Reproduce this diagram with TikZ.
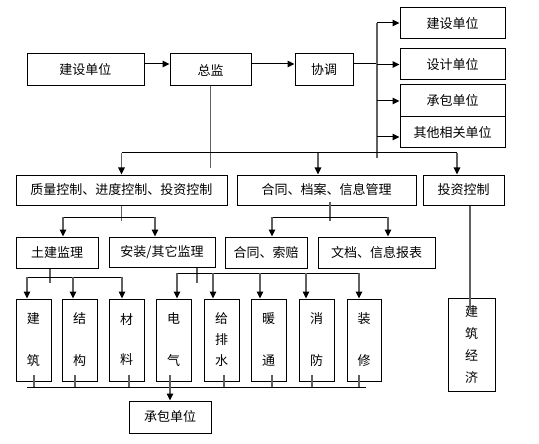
\documentclass[tikz,border=0pt]{standalone}
\usepackage{fontspec}
\setmainfont{Noto Sans CJK SC}
\usetikzlibrary{arrows.meta,calc}
\begin{document}
\begin{tikzpicture}[x=1pt,y=-1pt,line width=1pt,
  box/.style={draw=black,rectangle,inner sep=0pt,font=\fontsize{13}{15}\selectfont},
  vbox/.style={box,minimum width=35pt,minimum height=82pt,align=center,font=\fontsize{13}{21}\selectfont},
  hl/.style={draw=black},
  gl/.style={draw=gray!75!black,line width=1.2pt},
  arr/.style={-{Triangle[length=7pt,width=6.5pt,color=black]}},
  garr/.style={gl,-{Triangle[length=7pt,width=6.5pt,color=black]}}]
\useasboundingbox (0,0) rectangle (539,444);
\fill[white] (0,0) rectangle (539,444);
% top row
\node[box,minimum width=117pt,minimum height=32pt] (js) at (85.5,70) {建设单位};
\node[box,minimum width=81pt,minimum height=32pt] (zj) at (210.5,70) {总监};
\node[box,minimum width=58pt,minimum height=32pt] (xt) at (324,70) {协调};
\node[box,minimum width=105pt,minimum height=31pt] (r1) at (452.5,23.5) {建设单位};
\node[box,minimum width=105pt,minimum height=31pt] (r2) at (452.5,64.5) {设计单位};
\node[box,minimum width=105pt,minimum height=32pt] (r3) at (452.5,101) {承包单位};
\node[box,minimum width=105pt,minimum height=31pt] (r4) at (452.5,132.5) {其他相关单位};
% second row
\node[box,minimum width=211pt,minimum height=30pt] (zl) at (121.5,190) {质量控制、进度控制、投资控制};
\node[box,minimum width=179pt,minimum height=30pt] (ht) at (326.5,190) {合同、档案、信息管理};
\node[box,minimum width=81pt,minimum height=30pt] (tz) at (463.5,190) {投资控制};
% third row
\node[box,minimum width=82pt,minimum height=31pt] (tj) at (57,252.5) {土建监理};
\node[box,minimum width=106pt,minimum height=30pt] (az) at (162,252) {安装/其它监理};
\node[box,minimum width=82pt,minimum height=31pt] (hs) at (266,252.5) {合同、索赔};
\node[box,minimum width=117pt,minimum height=31pt] (wd) at (376.5,252.5) {文档、信息报表};
% fourth row
\node[vbox] (b1) at (33.5,340) {建\\[21pt]筑};
\node[vbox] (b2) at (79.5,340) {结\\[21pt]构};
\node[vbox] (b3) at (126.5,340) {材\\[19pt]料};
\node[vbox] (b4) at (173.5,340) {电\\[21pt]气};
\node[vbox] (b5) at (221.5,340) {给\\排\\水};
\node[vbox] (b6) at (268.5,340) {暖\\[21pt]通};
\node[vbox] (b7) at (316.5,340) {消\\[21pt]防};
\node[vbox,minimum width=34pt] (b8) at (364,340) {装\\[21pt]修};
\node[box,minimum width=47pt,minimum height=93pt,align=center,font=\fontsize{13}{21.7}\selectfont] (jj) at (471.5,344.5) {建\\筑\\经\\济};
\node[box,minimum width=82pt,minimum height=32pt] (cb) at (170,417) {承包单位};
% coordinates
\coordinate (vt) at (377,23);
\coordinate (vb) at (377,158);
\coordinate (xte) at ([yshift=6pt]xt.east);
\coordinate (r4w) at ([yshift=-4.5pt]r4.west);
\coordinate (zjend) at (210.5,168);
\coordinate (h1L) at (121.5,153);
\coordinate (h1M) at (318,153);
\coordinate (h1R) at (457,153);
% top connectors
\draw[hl,arr] ([yshift=6pt]js.east) -- ([yshift=6pt]zj.west);
\draw[hl,arr] ([yshift=6pt]zj.east) -- (xte -| xt.west);
\draw[hl] (xte) -- (vt |- xte);
\draw[gl] (vt) -- (vb);
\draw[hl,arr] (vt) -- (vt -| r1.west);
\draw[hl,arr] (vt |- r2.west) -- (r2.west);
\draw[hl,arr] (vt |- r3.west) -- (r3.west);
\draw[hl,arr] (vt |- r4w) -- (r4w);
% from 总监
\draw[gl] (zj.south) -- (zjend);
\draw[hl] (h1L) -- (h1R);
\draw[garr] (h1L) -- (zl.north);
\draw[garr] (h1M) -- (h1M |- ht.north);
\draw[garr] (h1R) -- (h1R |- tz.north);
% second level
\coordinate (z2) at (121.5,221);
\draw[gl] (zl.south) -- (z2);
\coordinate (z2L) at (63,217);
\coordinate (z2R) at (155,217);
\draw[hl] (z2L) -- (z2R);
\draw[garr] (z2L) -- (z2L |- tj.north);
\draw[garr] (z2R) -- (z2R |- az.north);
\coordinate (h2t) at (330,202);
\coordinate (h2) at (330,221);
\draw[gl] (h2t) -- (h2);
\coordinate (h2L) at (272,217);
\coordinate (h2R) at (388,217);
\draw[hl] (h2L) -- (h2R);
\draw[garr] (h2L) -- (h2L |- hs.north);
\draw[garr] (h2R) -- (h2R |- wd.north);
\coordinate (tzend) at (470,310);
\draw[gl] (tz.south -| tzend) -- (tzend);
% third level
\coordinate (t3) at (50,283);
\draw[gl] (tj.south -| t3) -- (t3);
\coordinate (t3L) at (27,277);
\coordinate (t3M) at (73,277);
\coordinate (t3R) at (122,277);
\draw[hl] (t3L) -- (t3R);
\draw[garr] (t3L) -- (t3L |- b1.north);
\draw[garr] (t3M) -- (t3M |- b2.north);
\draw[garr] (t3R) -- (t3R |- b3.north);
\coordinate (a3) at (197,283);
\draw[gl] (az.south -| a3) -- (a3);
\coordinate (a3L) at (177,273);
\coordinate (a3a) at (213,273);
\coordinate (a3b) at (260,273);
\coordinate (a3c) at (306,273);
\coordinate (a3R) at (359,273);
\draw[hl] (a3L) -- (a3R);
\draw[garr] (a3L) -- (a3L |- b4.north);
\draw[garr] (a3a) -- (a3a |- b5.north);
\draw[garr] (a3b) -- (a3b |- b6.north);
\draw[garr] (a3c) -- (a3c |- b7.north);
\draw[garr] (a3R) -- (a3R |- b8.north);
% bottom
\coordinate (bL) at (27,387);
\coordinate (bR) at (366,387);
\coordinate (bM) at (170,387);
\draw[hl] (bL) -- (bR);
\foreach \x in {34,75,129,170,224,272,312,359}
  \draw[gl] (\x,375) -- (\x,387);
\draw[garr] (bM) -- (cb.north);
\end{tikzpicture}
\end{document}
